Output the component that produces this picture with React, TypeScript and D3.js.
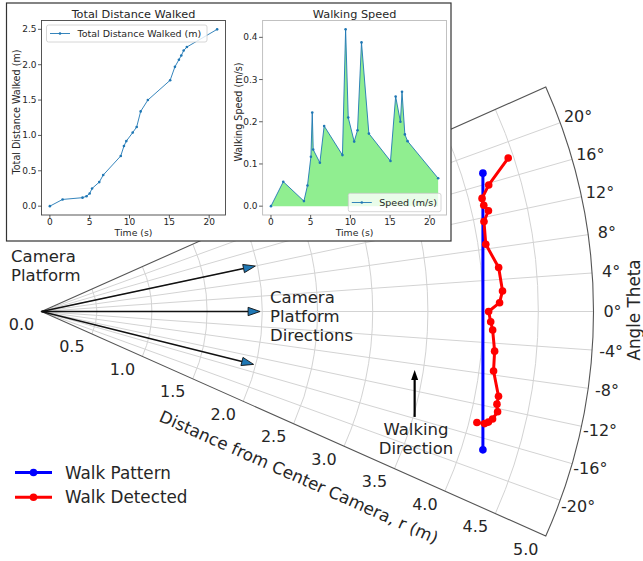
import React from "react";
import * as d3 from "d3";

// polar plot data (theta in degrees, r in metres)
const thetaTicks = [-20, -16, -12, -8, -4, 0, 4, 8, 12, 16, 20];
const rTicks = [0, 0.5, 1, 1.5, 2, 2.5, 3, 3.5, 4, 4.5, 5];
const patternTheta = [17.4, -17.4];
const patternR = [4.19, 4.19];
const detectedTheta = [18.2, 15.8, 14.4, 13.5, 12.7, 11.5, 8.6, 5.5, 2.55, 1.1, 0, -1.3, -2.35, -5.0, -7.5, -10.5, -11.5, -12.4, -13.4, -13.9, -14.2, -14.3];
const detectedR = [4.45, 4.21, 4.12, 4.12, 4.15, 4.09, 4.07, 4.16, 4.18, 4.15, 4.05, 4.07, 4.09, 4.12, 4.13, 4.21, 4.21, 4.23, 4.2, 4.17, 4.14, 4.07];
const cameraTheta = [12, 0, -14];
const cameraLength = 1.98;

// inset data
const distTime = [0, 1.6, 4.1, 4.6, 5.0, 5.3, 6.2, 6.7, 8.9, 9.3, 9.6, 10.4, 10.9, 11.4, 12.3, 15.1, 15.7, 16.2, 16.5, 16.8, 17.2, 21.0];
const distance = [0, 0.095, 0.12, 0.14, 0.18, 0.25, 0.34, 0.44, 0.71, 0.85, 0.92, 1.04, 1.12, 1.34, 1.5, 1.78, 1.97, 2.07, 2.13, 2.2, 2.25, 2.5];
const speedTime = [0, 1.55, 4.15, 4.6, 5.03, 5.2, 5.32, 6.16, 6.7, 9.0, 9.4, 9.73, 10.48, 10.9, 11.4, 12.33, 15.05, 15.7, 16.3, 16.5, 16.86, 17.2, 21.05];
const speed = [0, 0.058, 0.012, 0.049, 0.117, 0.222, 0.134, 0.103, 0.19, 0.121, 0.419, 0.21, 0.153, 0.18, 0.388, 0.172, 0.107, 0.26, 0.2, 0.271, 0.17, 0.154, 0.066];
const timeTicks = [0, 5, 10, 15, 20];
const distTicks = [0, 0.5, 1, 1.5, 2, 2.5];
const speedTicks = [0, 0.1, 0.2, 0.3, 0.4];

const FONT = "DejaVu Sans";
const TXT = "#262626";
const THETA_MAX = 24;
const ox = 41.5;
const oy = 311.5;
const rad = Math.PI / 180;

const rScale = d3.scaleLinear().domain([0, 5]).range([0, 552]);
const toXY = (th: number, r: number): [number, number] => [
   ox + rScale(r) * Math.cos(th * rad),
   oy - rScale(r) * Math.sin(th * rad),
];

const pad = (v: number[]) => {
   const [a, b] = d3.extent(v) as [number, number];
   return [a - 0.05 * (b - a), b + 0.05 * (b - a)];
};

function head(tip: [number, number], from: [number, number], len: number, half: number) {
   const dx = tip[0] - from[0];
   const dy = tip[1] - from[1];
   const l = Math.hypot(dx, dy);
   const ux = dx / l, uy = dy / l;
   const bx = tip[0] - ux * len, by = tip[1] - uy * len;
   return {
      base: [bx, by] as [number, number],
      pts: `${tip[0]},${tip[1]} ${bx - uy * half},${by + ux * half} ${bx + uy * half},${by - ux * half}`,
   };
}

function Inset(props: {
   left: number; right: number; title: string; ylabel: string; ylabelX: number;
   xs: number[]; ys: number[]; yTicks: number[]; fmt: (v: number) => string;
   frame: string; fill?: boolean; legend: string; legendBox: number[];
}) {
   const { left, right, xs, ys } = props;
   const top = 20.5, bottom = 215;
   const x = d3.scaleLinear().domain(pad(xs)).range([left, right]);
   const y = d3.scaleLinear().domain(pad(ys)).range([bottom, top]);
   const pts = xs.map((t, i) => [t, ys[i]] as [number, number]);
   const line = d3.line<[number, number]>().x((d) => x(d[0])).y((d) => y(d[1]));
   const area = d3.area<[number, number]>().x((d) => x(d[0])).y0(y(0)).y1((d) => y(d[1]));
   const cx = (left + right) / 2;
   const [lx0, ly0, lx1, ly1] = props.legendBox;
   const ly = (ly0 + ly1) / 2;
   return (
      <g fontFamily={FONT} fill={TXT}>
         {props.fill && <path d={area(pts) || ""} fill="#90ee90" />}
         <path d={line(pts) || ""} fill="none" stroke="#1f77b4" strokeWidth={0.9} />
         {pts.map((d, i) => (
            <circle key={i} cx={x(d[0])} cy={y(d[1])} r={1.3} fill="#1f77b4" />
         ))}
         <rect x={left} y={top} width={right - left} height={bottom - top} fill="none" stroke={props.frame} strokeWidth={0.9} />
         {timeTicks.map((t) => (
            <g key={t}>
               <line x1={x(t)} x2={x(t)} y1={bottom} y2={bottom + 3.5} stroke="#333" strokeWidth={0.8} />
               <text x={x(t)} y={bottom + 10} fontSize={9} textAnchor="middle">{t}</text>
            </g>
         ))}
         {props.yTicks.map((v) => (
            <g key={v}>
               <line x1={left - 3.5} x2={left} y1={y(v)} y2={y(v)} stroke="#333" strokeWidth={0.8} />
               <text x={left - 5} y={y(v)} fontSize={9} textAnchor="end" dominantBaseline="central">{props.fmt(v)}</text>
            </g>
         ))}
         <text x={cx} y={14} fontSize={11.3} textAnchor="middle" dominantBaseline="central">{props.title}</text>
         <text x={cx} y={232} fontSize={9.3} textAnchor="middle" dominantBaseline="central">Time (s)</text>
         <text transform={`translate(${props.ylabelX},112) rotate(-90)`} fontSize={9.6} textAnchor="middle" dominantBaseline="central">{props.ylabel}</text>
         <rect x={lx0} y={ly0} width={lx1 - lx0} height={ly1 - ly0} rx={2} fill="#fff" fillOpacity={0.8} stroke="#ccc" strokeWidth={0.8} />
         <line x1={lx0 + 3.5} x2={lx0 + 23.5} y1={ly} y2={ly} stroke="#1f77b4" strokeWidth={0.9} />
         <circle cx={lx0 + 13.5} cy={ly} r={1.3} fill="#1f77b4" />
         <text x={lx0 + 31} y={ly} fontSize={9.5} dominantBaseline="central">{props.legend}</text>
      </g>
   );
}

export default function App() {
   const R = rScale(5);
   const polarLine = d3
      .line<[number, number]>()
      .x((d) => toXY(d[0], d[1])[0])
      .y((d) => toXY(d[0], d[1])[1]);
   const pattern = patternTheta.map((t, i) => [t, patternR[i]] as [number, number]);
   const detected = detectedTheta.map((t, i) => [t, detectedR[i]] as [number, number]);

   const arcPath = (r: number) => {
      const p = d3.path();
      const s = toXY(THETA_MAX, r);
      p.moveTo(s[0], s[1]);
      p.arc(ox, oy, rScale(r), -THETA_MAX * rad, THETA_MAX * rad);
      return p.toString();
   };
   const wedge = (() => {
      const p = d3.path();
      const s = toXY(THETA_MAX, 5);
      p.moveTo(ox, oy);
      p.lineTo(s[0], s[1]);
      p.arc(ox, oy, R, -THETA_MAX * rad, THETA_MAX * rad);
      p.closePath();
      return p.toString();
   })();

   // walking direction arrow, cartesian metres
   const wx = ox + rScale(3.38);
   const wTail: [number, number] = [wx, oy + rScale(0.955)];
   const wTip: [number, number] = [wx, oy + rScale(0.53)];
   const wHead = head(wTip, wTail, 10, 3.5);

   return (
      <svg width={643} height={561} style={{ position: "absolute", left: 0, top: 0, background: "#fff" }} fontFamily={FONT}>
         {/* grid */}
         {rTicks.slice(1, -1).map((r) => (
            <path key={r} d={arcPath(r)} fill="none" stroke="#d3d3d3" strokeWidth={1} />
         ))}
         {thetaTicks.map((t) => {
            const e = toXY(t, 5);
            return <line key={t} x1={ox} y1={oy} x2={e[0]} y2={e[1]} stroke="#d3d3d3" strokeWidth={1} />;
         })}
         <path d={wedge} fill="none" stroke="#555" strokeWidth={1.1} />

         {/* theta labels */}
         {thetaTicks.map((t) => {
            const p = [ox + 571 * Math.cos(t * rad), oy - 571 * Math.sin(t * rad)];
            return (
               <text key={t} x={p[0]} y={p[1]} fontSize={16} fill={TXT} textAnchor="middle" dominantBaseline="central">
                  {t}°
               </text>
            );
         })}
         {/* r labels */}
         {rTicks.map((r) => {
            const p = toXY(-THETA_MAX, r);
            return (
               <text key={r} x={p[0] - 20} y={p[1] + 13} fontSize={16} fill={TXT} textAnchor="middle" dominantBaseline="central">
                  {r.toFixed(1)}
               </text>
            );
         })}
         <text transform="translate(299,477) rotate(24)" fontSize={16.8} fill={TXT} textAnchor="middle" dominantBaseline="central">
            Distance from Center Camera, r (m)
         </text>
         <text transform="translate(634,310) rotate(-90)" fontSize={16.8} fill={TXT} textAnchor="middle" dominantBaseline="central">
            Angle Theta
         </text>

         {/* camera platform arrows */}
         {cameraTheta.map((t) => {
            const tip = toXY(t, cameraLength);
            const h = head(tip, [ox, oy], 12, 4.2);
            return (
               <g key={t}>
                  <line x1={ox} y1={oy} x2={h.base[0]} y2={h.base[1]} stroke="#111" strokeWidth={1.5} />
                  <polygon points={h.pts} fill="#1f77b4" stroke="#111" strokeWidth={0.9} />
               </g>
            );
         })}
         {/* walking direction arrow */}
         <line x1={wTail[0]} y1={wTail[1]} x2={wHead.base[0]} y2={wHead.base[1]} stroke="#000" strokeWidth={2.2} />
         <polygon points={wHead.pts} fill="#000" />

         {/* series */}
         <path d={polarLine(pattern) || ""} fill="none" stroke="#0000ff" strokeWidth={3} />
         {pattern.map((d, i) => {
            const p = toXY(d[0], d[1]);
            return <circle key={i} cx={p[0]} cy={p[1]} r={3.8} fill="#0000ff" />;
         })}
         <path d={polarLine(detected) || ""} fill="none" stroke="#ff0000" strokeWidth={3} strokeLinejoin="round" />
         {detected.map((d, i) => {
            const p = toXY(d[0], d[1]);
            return <circle key={i} cx={p[0]} cy={p[1]} r={3.8} fill="#ff0000" />;
         })}

         {/* annotations */}
         <g fontSize={16.5} fill={TXT}>
            <text x={11} y={262}>Camera</text>
            <text x={11} y={281}>Platform</text>
            <text x={270} y={303}>Camera</text>
            <text x={270} y={322}>Platform</text>
            <text x={270} y={341}>Directions</text>
            <text x={416} y={435} textAnchor="middle">Walking</text>
            <text x={416} y={454} textAnchor="middle">Direction</text>
         </g>

         {/* legend */}
         <line x1={15} x2={52} y1={472.5} y2={472.5} stroke="#0000ff" strokeWidth={3} />
         <circle cx={33.5} cy={472.5} r={3.8} fill="#0000ff" />
         <text x={65} y={472.5} fontSize={16.8} fill={TXT} dominantBaseline="central">Walk Pattern</text>
         <line x1={15} x2={52} y1={497.3} y2={497.3} stroke="#ff0000" strokeWidth={3} />
         <circle cx={33.5} cy={497.3} r={3.8} fill="#ff0000" />
         <text x={65} y={497.3} fontSize={16.8} fill={TXT} dominantBaseline="central">Walk Detected</text>

         {/* inset */}
         <rect x={6.5} y={3} width={444.5} height={238} fill="#fff" stroke="#333" strokeWidth={1.2} />
         <Inset
            left={41.5} right={225.5} title="Total Distance Walked" ylabel="Total Distance Walked (m)" ylabelX={16}
            xs={distTime} ys={distance} yTicks={distTicks} fmt={(v) => v.toFixed(1)} frame="#444"
            legend="Total Distance Walked (m)" legendBox={[46.5, 25, 207, 42]}
         />
         <Inset
            left={262.6} right={446.5} title="Walking Speed" ylabel="Walking Speed (m/s)" ylabelX={238}
            xs={speedTime} ys={speed} yTicks={speedTicks} fmt={(v) => v.toFixed(1)} frame="#bbb" fill
            legend="Speed (m/s)" legendBox={[348.3, 193.3, 441, 211.7]}
         />
      </svg>
   );
}
